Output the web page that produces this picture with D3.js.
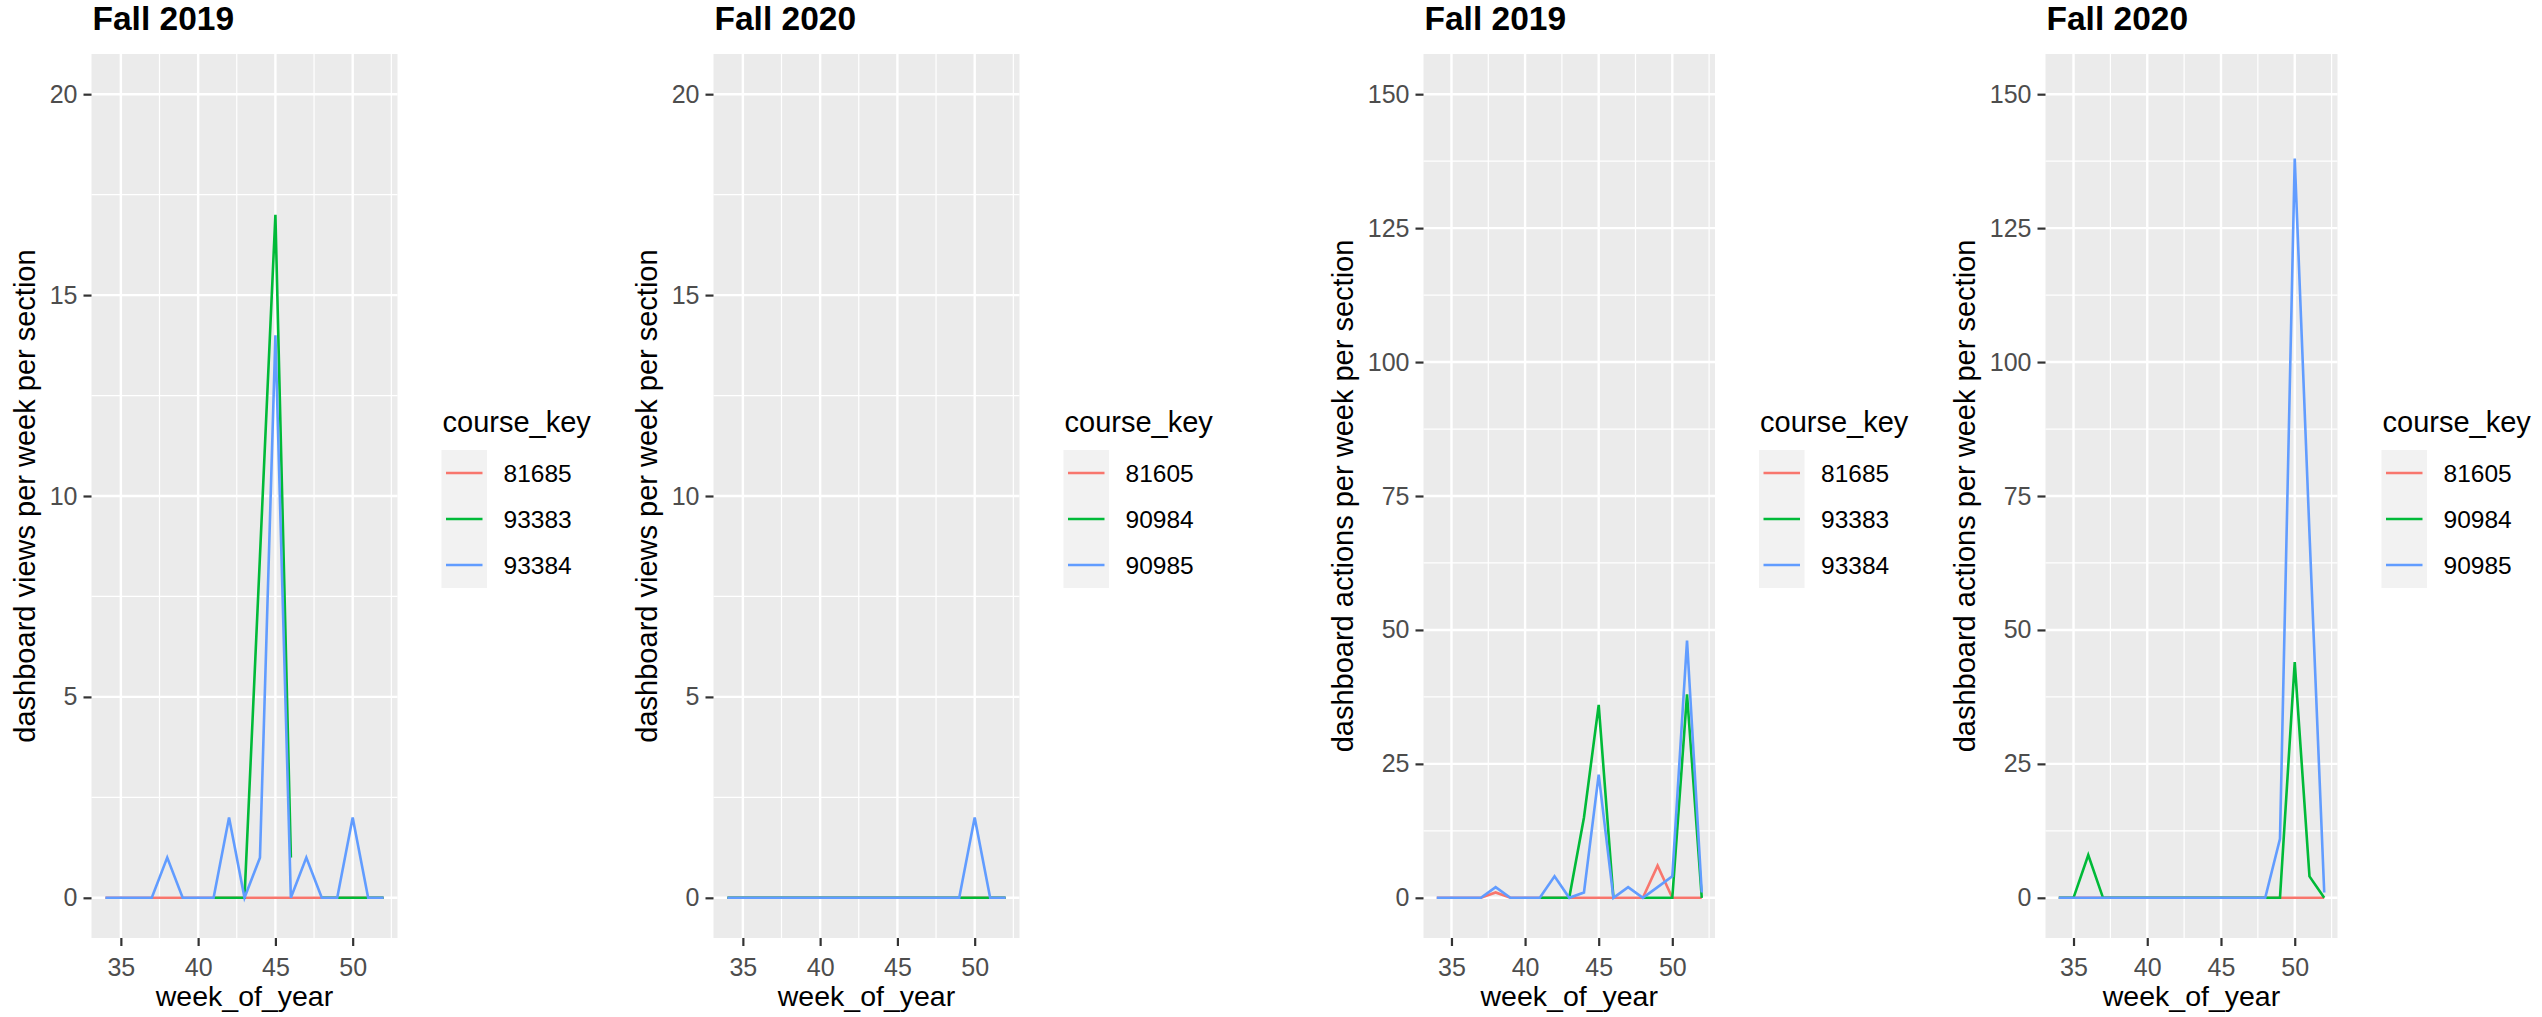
<!DOCTYPE html>
<html>
<head>
<meta charset="utf-8">
<script src="https://cdn.jsdelivr.net/npm/d3@7"></script>
<style>
  body { margin: 0; background: #fff; }
  text { font-family: "Liberation Sans", Arial, sans-serif; }
</style>
</head>
<body>
<svg id="chart" width="2542" height="1017"></svg>
<script>
// weeks on the x axis
const weekOfYear = [34, 35, 36, 37, 38, 39, 40, 41, 42, 43, 44, 45, 46, 47, 48, 49, 50, 51, 52];
const xTickValues = [35, 40, 45, 50];
const viewsTicks = [0, 5, 10, 15, 20];
const actionsTicks = [0, 25, 50, 75, 100, 125, 150];

const keys2019 = ['81685', '93383', '93384'];
const keys2020 = ['81605', '90984', '90985'];

// dashboard views per week per section
const views2019_81685 = [0, 0, 0, 0, 0, 0, 0, 0, 0, 0, 0, 0, 0, 0, 0, 0, 0, 0, 0];
const views2019_93383 = [null, null, null, null, null, null, null, 0, 0, 0, 8.5, 17, 1, null, 0, 0, 0, 0, 0];
const views2019_93384 = [0, 0, 0, 0, 1, 0, 0, 0, 2, 0, 1, 14, 0, 1, 0, 0, 2, 0, 0];
const views2020_81605 = [0, 0, 0, 0, 0, 0, 0, 0, 0, 0, 0, 0, 0, 0, 0, 0, 0, 0, 0];
const views2020_90984 = [0, 0, 0, 0, 0, 0, 0, 0, 0, 0, 0, 0, 0, 0, 0, 0, 0, 0, 0];
const views2020_90985 = [0, 0, 0, 0, 0, 0, 0, 0, 0, 0, 0, 0, 0, 0, 0, 0, 2, 0, 0];

// dashboard actions per week per section
const actions2019_81685 = [0, 0, 0, 0, 1, 0, 0, 0, 0, 0, 0, 0, 0, 0, 0, 6, 0, 0, 0];
const actions2019_93383 = [null, null, null, null, null, null, null, 0, 0, 0, 15, 36, 0, null, 0, 0, 0, 38, 0];
const actions2019_93384 = [0, 0, 0, 0, 2, 0, 0, 0, 4, 0, 1, 23, 0, 2, 0, 2, 4, 48, 1];
const actions2020_81605 = [0, 0, 0, 0, 0, 0, 0, 0, 0, 0, 0, 0, 0, 0, 0, 0, 0, 0, 0];
const actions2020_90984 = [0, 0, 8, 0, 0, 0, 0, 0, 0, 0, 0, 0, 0, 0, 0, 0, 44, 4, 0];
const actions2020_90985 = [0, 0, 0, 0, 0, 0, 0, 0, 0, 0, 0, 0, 0, 0, 0, 11, 138, 68, 1];

const colors = ['#F8766D', '#00BA38', '#619CFF'];

const panels = [
  { title: 'Fall 2019', ylab: 'dashboard views per week per section', keys: keys2019,
    series: [views2019_81685, views2019_93383, views2019_93384], yTicks: viewsTicks, left: 91.5, right: 397.5 },
  { title: 'Fall 2020', ylab: 'dashboard views per week per section', keys: keys2020,
    series: [views2020_81605, views2020_90984, views2020_90985], yTicks: viewsTicks, left: 713.5, right: 1019.5 },
  { title: 'Fall 2019', ylab: 'dashboard actions per week per section', keys: keys2019,
    series: [actions2019_81685, actions2019_93383, actions2019_93384], yTicks: actionsTicks, left: 1423.5, right: 1715 },
  { title: 'Fall 2020', ylab: 'dashboard actions per week per section', keys: keys2020,
    series: [actions2020_81605, actions2020_90984, actions2020_90985], yTicks: actionsTicks, left: 2045.5, right: 2337.5 }
];

const plotTop = 54;
const plotBottom = 938;
const svg = d3.select('#chart');

// ggplot style 5% expansion
const expand = (lo, hi) => [lo - (hi - lo) * 0.05, hi + (hi - lo) * 0.05];
const minorOf = (ticks, domain) => {
  const step = ticks[1] - ticks[0];
  const out = [];
  for (let v = ticks[0] - step / 2; v <= ticks[ticks.length - 1] + step; v += step) {
    if (v > domain[0] && v < domain[1]) out.push(v);
  }
  return out;
};

panels.forEach(p => {
  const g = svg.append('g');
  const xDomain = expand(d3.min(weekOfYear), d3.max(weekOfYear));
  const yDomain = expand(0, d3.max(p.yTicks));
  const xScale = d3.scaleLinear().domain(xDomain).range([p.left, p.right]);
  const yScale = d3.scaleLinear().domain(yDomain).range([plotBottom, plotTop]);

  g.append('rect')
    .attr('x', p.left).attr('y', plotTop)
    .attr('width', p.right - p.left).attr('height', plotBottom - plotTop)
    .attr('fill', '#EBEBEB');

  // grid
  g.selectAll('.xminor').data(minorOf(xTickValues, xDomain)).enter().append('line')
    .attr('x1', d => xScale(d)).attr('x2', d => xScale(d)).attr('y1', plotTop).attr('y2', plotBottom)
    .attr('stroke', '#fff').attr('stroke-width', 1.2);
  g.selectAll('.yminor').data(minorOf(p.yTicks, yDomain)).enter().append('line')
    .attr('y1', d => yScale(d)).attr('y2', d => yScale(d)).attr('x1', p.left).attr('x2', p.right)
    .attr('stroke', '#fff').attr('stroke-width', 1.2);
  g.selectAll('.xmajor').data(xTickValues).enter().append('line')
    .attr('x1', d => xScale(d)).attr('x2', d => xScale(d)).attr('y1', plotTop).attr('y2', plotBottom)
    .attr('stroke', '#fff').attr('stroke-width', 2.4);
  g.selectAll('.ymajor').data(p.yTicks).enter().append('line')
    .attr('y1', d => yScale(d)).attr('y2', d => yScale(d)).attr('x1', p.left).attr('x2', p.right)
    .attr('stroke', '#fff').attr('stroke-width', 2.4);

  // lines
  const line = d3.line()
    .defined(d => d[1] != null)
    .x(d => xScale(d[0]))
    .y(d => yScale(d[1]));
  p.series.forEach((vals, i) => {
    g.append('path')
      .datum(weekOfYear.map((w, j) => [w, vals[j]]))
      .attr('d', line)
      .attr('fill', 'none')
      .attr('stroke', colors[i])
      .attr('stroke-width', 2.6)
      .attr('stroke-linejoin', 'miter');
  });

  // axes
  const xAxis = g.append('g')
    .attr('transform', 'translate(0,' + plotBottom + ')')
    .call(d3.axisBottom(xScale).tickValues(xTickValues).tickSize(8).tickPadding(12));
  const yAxis = g.append('g')
    .attr('transform', 'translate(' + p.left + ',0)')
    .call(d3.axisLeft(yScale).tickValues(p.yTicks).tickSize(8).tickPadding(6));
  [xAxis, yAxis].forEach(a => {
    a.select('.domain').remove();
    a.selectAll('line').attr('stroke', '#333333').attr('stroke-width', 2.2);
    a.selectAll('text')
      .attr('fill', '#4D4D4D')
      .style('font-size', '25px')
      .style('font-family', '"Liberation Sans", Arial, sans-serif');
  });

  let labelWidth = 0;
  yAxis.selectAll('text').each(function () {
    labelWidth = Math.max(labelWidth, this.getComputedTextLength());
  });

  g.append('text')
    .attr('x', (p.left + p.right) / 2)
    .attr('y', 1006)
    .attr('text-anchor', 'middle')
    .style('font-size', '28.5px')
    .text('week_of_year');

  const ylx = p.left - 14 - labelWidth - 14.5;
  g.append('text')
    .attr('transform', 'translate(' + ylx + ',' + (plotTop + plotBottom) / 2 + ') rotate(-90)')
    .attr('text-anchor', 'middle')
    .style('font-size', '29px')
    .text(p.ylab);

  g.append('text')
    .attr('x', p.left + 1)
    .attr('y', 30)
    .style('font-size', '33.5px')
    .style('font-weight', 'bold')
    .text(p.title);

  // legend
  const lx = p.right + 44;
  g.append('text')
    .attr('x', lx + 1)
    .attr('y', 432)
    .style('font-size', '29px')
    .text('course_key');
  p.keys.forEach((k, i) => {
    const ky = 450 + i * 46;
    g.append('rect')
      .attr('x', lx).attr('y', ky).attr('width', 45.5).attr('height', 46)
      .attr('fill', '#F2F2F2');
    g.append('line')
      .attr('x1', lx + 4.5).attr('x2', lx + 41)
      .attr('y1', ky + 23).attr('y2', ky + 23)
      .attr('stroke', colors[i]).attr('stroke-width', 2.6);
    g.append('text')
      .attr('x', lx + 62)
      .attr('y', ky + 23 + 8.5)
      .style('font-size', '24.5px')
      .text(k);
  });
});
</script>
</body>
</html>
